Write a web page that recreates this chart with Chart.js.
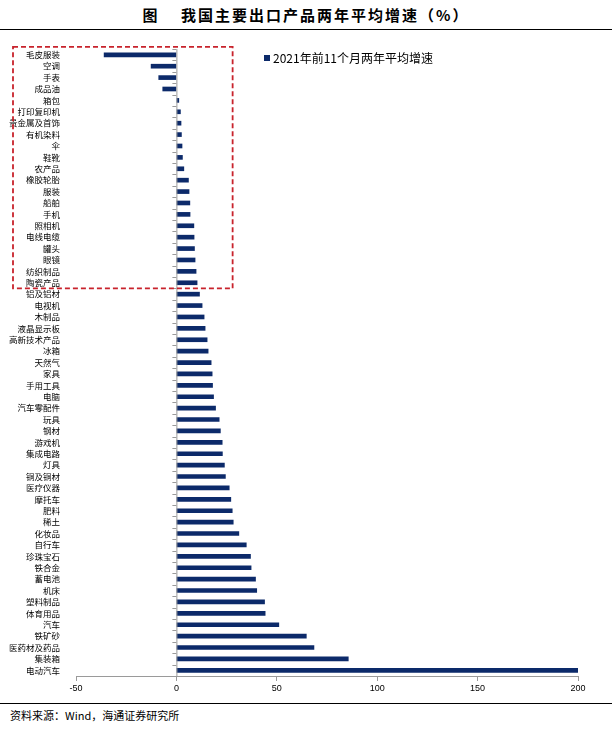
<!DOCTYPE html>
<html>
<head>
<meta charset="utf-8">
<script src="https://cdn.jsdelivr.net/npm/chart.js@4"></script>
<style>
  body { margin: 0; width: 612px; height: 729px; background: #fff; position: relative; overflow: hidden; font-family: "Noto Sans CJK SC", sans-serif; }
  .title { position: absolute; top: 4px; left: 0; width: 612px; text-align: center; font-size: 15px; font-weight: bold; letter-spacing: 2px; color: #000; }
  .rule { position: absolute; left: 0; width: 612px; height: 0; border-top: 1.5px solid #000; }
  .legend { position: absolute; left: 264px; top: 49px; font-size: 12px; color: #000; }
  .legend i { display: inline-block; width: 6px; height: 6px; background: #0c2a6a; margin-right: 3px; vertical-align: 2px; }
  .source { position: absolute; left: 10px; top: 707px; font-size: 11px; color: #000; }
  #wrap { position: absolute; left: 0; top: 36px; width: 612px; height: 664px; }
</style>
</head>
<body>
<div class="title">图&nbsp;&nbsp;&nbsp;&nbsp;我国主要出口产品两年平均增速（%）</div>
<div class="rule" style="top:29px"></div>
<div id="wrap"><canvas id="c"></canvas></div>
<div class="legend"><i></i>2021年前11个月两年平均增速</div>
<div class="rule" style="top:703px"></div>
<div class="source">资料来源：Wind，海通证券研究所</div>
<script>
// 出口产品（自上而下）
const products = [
    '毛皮服装', '空调', '手表', '成品油', '箱包', '打印复印机', '贵金属及首饰', '有机染料',
    '伞', '鞋靴', '农产品', '橡胶轮胎', '服装', '船舶', '手机', '照相机', '电线电缆', '罐头',
    '眼镜', '纺织制品', '陶瓷产品', '铝及铝材', '电视机', '木制品', '液晶显示板', '高新技术产品',
    '冰箱', '天然气', '家具', '手用工具', '电脑', '汽车零配件', '玩具', '钢材', '游戏机',
    '集成电路', '灯具', '铜及铜材', '医疗仪器', '摩托车', '肥料', '稀土', '化妆品', '自行车',
    '珍珠宝石', '铁合金', '蓄电池', '机床', '塑料制品', '体育用品', '汽车', '铁矿砂',
    '医药材及药品', '集装箱', '电动汽车'
];

// 2021年前11个月两年平均增速（%）
const growth2y = [
    -36, -12.6, -8.8, -6.8, 1.2, 2.0, 2.3, 2.5,
    2.8, 3.0, 3.7, 6.0, 6.3, 6.7, 6.8, 8.7, 8.8, 9.0,
    9.3, 9.8, 10.3, 11.5, 12.8, 13.8, 14.3, 15.3,
    15.8, 17.3, 17.8, 18.0, 18.5, 19.5, 21.3, 21.9, 22.8,
    22.9, 23.9, 24.4, 26.3, 27.1, 27.8, 28.3, 31.1, 34.8,
    36.9, 37.2, 39.4, 40.0, 43.9, 44.2, 51.0, 64.7,
    68.5, 85.6, 200
];

const xTicks = [-50, 0, 50, 100, 150, 200];

// 重点框：前 21 个产品
const boxCount = 21;
const boxValue = 28;

const axisGray = '#9a9a9a';

const overlay = {
    id: 'overlay',
    afterDraw(chart) {
        const { ctx, chartArea, scales } = chart;
        const x = scales.x;
        const y = scales.y;
        const zero = x.getPixelForValue(0);
        const step = y.getPixelForValue(1) - y.getPixelForValue(0);

        // 零轴与分类刻度
        ctx.save();
        ctx.strokeStyle = axisGray;
        ctx.lineWidth = 1;
        ctx.beginPath();
        ctx.moveTo(zero + 0.5, chartArea.top);
        ctx.lineTo(zero + 0.5, chartArea.bottom);
        for (let i = 0; i <= products.length; i++) {
            const py = Math.round(y.getPixelForValue(0) - step / 2 + i * step) + 0.5;
            ctx.moveTo(zero - 4, py);
            ctx.lineTo(zero, py);
        }
        ctx.stroke();

        // 红色虚线框
        const top = y.getPixelForValue(0) - 8;
        const bottom = y.getPixelForValue(boxCount - 1) + step / 2;
        const right = x.getPixelForValue(boxValue);
        ctx.strokeStyle = '#c8232c';
        ctx.lineWidth = 1.8;
        ctx.setLineDash([5, 3]);
        ctx.strokeRect(13, top, right - 13, bottom - top);
        ctx.restore();
    },
};

new Chart(document.getElementById('c'), {
    type: 'bar',
    data: {
        labels: products,
        datasets: [{
            label: '2021年前11个月两年平均增速',
            data: growth2y,
            backgroundColor: '#0c2a6a',
            barThickness: 4,
        }],
    },
    options: {
        indexAxis: 'y',
        responsive: true,
        maintainAspectRatio: false,
        animation: false,
        layout: { padding: { top: 10, right: 34, left: 0, bottom: 0 } },
        plugins: {
            legend: { display: false },
            tooltip: { enabled: false },
        },
        scales: {
            x: {
                min: -50,
                max: 200,
                afterBuildTicks: (scale) => {
                    scale.ticks = xTicks.map((v) => ({ value: v }));
                },
                afterFit: (scale) => { scale.height = 24; },
                border: { color: axisGray },
                grid: {
                    drawOnChartArea: false,
                    tickLength: 5,
                    tickColor: axisGray,
                },
                ticks: {
                    color: '#000',
                    padding: 2,
                    font: { family: 'Liberation Sans', size: 9 },
                },
            },
            y: {
                afterFit: (scale) => { scale.width = 76; },
                border: { display: false },
                grid: { display: false },
                ticks: {
                    autoSkip: false,
                    color: '#000',
                    padding: 8,
                    font: { family: 'Noto Sans CJK SC', size: 8.5 },
                },
            },
        },
    },
    plugins: [overlay],
});
</script>
</body>
</html>
